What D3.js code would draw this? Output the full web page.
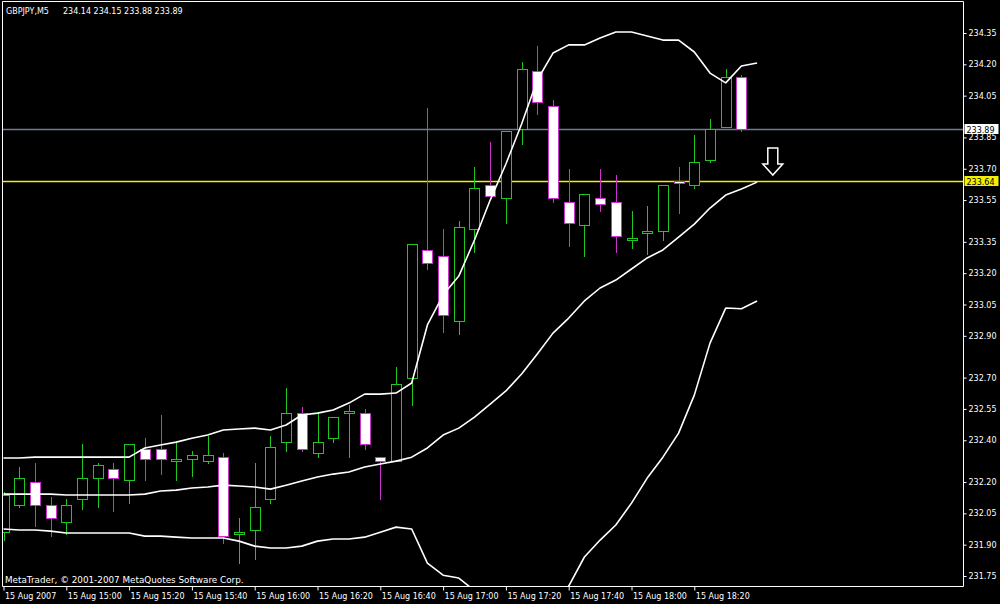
<!DOCTYPE html>
<html><head><meta charset="utf-8">
<script src="https://cdn.jsdelivr.net/npm/d3@7"></script>
<style>
html,body{margin:0;padding:0;background:#000;}
svg{display:block;}
text{font-family:"DejaVu Sans",sans-serif;font-size:8px;fill:#fff;}
</style></head>
<body>
<svg id="c" width="1000" height="604"></svg>
<script>
// ---- data ----
const symbolTitle = "GBPJPY,M5";
const lastQuote = "234.14 234.15 233.88 233.89";
const copyright = "MetaTrader, \u00a9 2001-2007 MetaQuotes Software Corp.";

const openP  = [231.96,232.09,232.20,232.09,232.01,232.12,232.22,232.26,232.21,232.36,232.36,232.30,232.31,232.30,232.32,231.95,231.97,232.12,232.39,232.53,232.34,232.41,232.53,232.53,232.32,232.30,232.70,233.31,233.28,232.97,233.41,233.62,233.56,233.89,234.17,234.00,233.54,233.43,233.56,233.54,233.36,233.39,233.40,233.64,233.62,233.74,233.90,234.14];
const highP  = [232.15,232.27,232.29,232.13,232.12,232.38,232.29,232.29,232.38,232.41,232.52,232.39,232.35,232.42,232.34,232.03,232.29,232.42,232.65,232.56,232.53,232.51,232.57,232.55,232.32,232.75,233.34,233.99,233.41,233.45,233.71,233.83,233.88,234.21,234.29,234.03,233.70,233.58,233.70,233.67,233.50,233.52,233.62,233.71,233.86,233.94,234.18,234.15];
const lowP   = [231.92,232.08,231.99,231.94,231.95,232.07,232.08,232.06,232.10,232.21,232.24,232.21,232.23,232.29,231.91,231.81,231.83,232.10,232.35,232.35,232.32,232.39,232.32,232.36,232.12,232.30,232.57,233.22,232.92,232.91,233.30,233.57,233.44,233.82,233.96,233.54,233.33,233.28,233.50,233.30,233.32,233.29,233.36,233.49,233.61,233.73,233.90,233.88];
const closeP = [232.14,232.22,232.09,232.03,232.09,232.22,232.28,232.22,232.38,232.31,232.31,232.31,232.33,232.33,231.94,231.96,232.08,232.37,232.53,232.36,232.39,232.51,232.54,232.38,232.30,232.67,233.34,233.25,233.00,233.42,233.61,233.57,233.88,234.18,234.02,233.56,233.44,233.58,233.53,233.38,233.37,233.40,233.62,233.63,233.73,233.89,234.14,233.89];

const bbUpper  = [232.315,232.315,232.319,232.319,232.319,232.319,232.319,232.319,232.319,232.363,232.377,232.391,232.410,232.425,232.449,232.454,232.458,232.449,232.473,232.521,232.530,232.545,232.578,232.621,232.621,232.626,232.674,232.952,233.095,233.186,233.359,233.550,233.723,233.914,234.125,234.254,234.293,234.293,234.326,234.355,234.355,234.336,234.316,234.316,234.259,234.158,234.111,234.192,234.206];
const bbMiddle = [232.142,232.142,232.142,232.142,232.138,232.138,232.138,232.138,232.138,232.142,232.157,232.161,232.171,232.176,232.185,232.181,232.176,232.166,232.185,232.205,232.224,232.238,232.248,232.272,232.286,232.300,232.319,232.363,232.425,232.458,232.511,232.573,232.636,232.717,232.813,232.913,232.985,233.067,233.129,233.167,233.220,233.273,233.311,233.373,233.435,233.512,233.574,233.603,233.636];
const bbLower  = [231.975,231.970,231.970,231.965,231.956,231.956,231.956,231.956,231.956,231.941,231.941,231.936,231.932,231.932,231.932,231.917,231.893,231.884,231.884,231.893,231.917,231.927,231.927,231.936,231.960,231.984,231.975,231.812,231.754,231.740,231.680,231.596,231.548,231.520,231.500,231.610,231.702,231.841,231.922,231.994,232.099,232.219,232.319,232.434,232.616,232.865,233.033,233.030,233.067];

const priceTicks = [234.35,234.20,234.05,233.85,233.70,233.55,233.35,233.20,233.05,232.90,232.70,232.55,232.40,232.20,232.05,231.90,231.75];
const timeTickBars = [0,4,8,12,16,20,24,28,32,36,40,44];
const timeLabels = ["15 Aug 2007","15 Aug 15:00","15 Aug 15:20","15 Aug 15:40","15 Aug 16:00","15 Aug 16:20","15 Aug 16:40","15 Aug 17:00","15 Aug 17:20","15 Aug 17:40","15 Aug 18:00","15 Aug 18:20"];

const bidLevel = 233.89;
const hLevel = 233.64;
const arrowBar = 49;
const arrowPrice = 233.67;

// ---- layout ----
const L = 2.5, R = 963.5, T = 1.5, B = 586.5;
const barW = 15.7;
const x = d3.scaleLinear().domain([0, 48]).range([3.5, 3.5 + 48 * barW]);
const y = d3.scaleLinear().domain([231.75, 234.35]).range([576, 33]);

const bullC = "#1ec81e", bearC = "#cc33cc";

const svg = d3.select("#c");
svg.append("rect").attr("width",1000).attr("height",604).attr("fill","#000");

svg.append("defs").append("clipPath").attr("id","plot")
  .append("rect").attr("x",L).attr("y",T).attr("width",R-L).attr("height",B-T);

const g = svg.append("g").attr("clip-path","url(#plot)");

// horizontal levels
g.append("line").attr("x1",L).attr("x2",R).attr("y1",Math.round(y(bidLevel))+0.5).attr("y2",Math.round(y(bidLevel))+0.5)
  .attr("stroke","#6f7c8a").attr("stroke-width",1.3);
g.append("line").attr("x1",L).attr("x2",R).attr("y1",Math.round(y(hLevel))+0.5).attr("y2",Math.round(y(hLevel))+0.5)
  .attr("stroke","#f0f000").attr("stroke-width",1.6);

// candles
const bars = d3.range(openP.length).map(i => ({i, o:openP[i], h:highP[i], l:lowP[i], c:closeP[i]}));
const cg = g.append("g");
bars.forEach(d => {
  const cx = Math.round(x(d.i)) + 0.5;
  const bull = d.c >= d.o;
  const col = bull ? bullC : bearC;
  cg.append("line").attr("x1",cx).attr("x2",cx)
    .attr("y1",Math.round(y(d.h))).attr("y2",Math.round(y(d.l))+1)
    .attr("stroke",col).attr("stroke-width",1);
  const yt = Math.round(y(Math.max(d.o,d.c))) + 0.5;
  const yb = Math.round(y(Math.min(d.o,d.c))) + 0.5;
  cg.append("rect").attr("x",cx-5).attr("y",yt).attr("width",10).attr("height",Math.max(1,yb-yt))
    .attr("fill", bull ? "#000" : "#fff").attr("stroke",col).attr("stroke-width",1);
});

// bollinger bands
const line = d3.line().x((d,i)=>x(i)).y(d=>y(d));
[bbUpper, bbMiddle, bbLower].forEach(s => {
  g.append("path").datum(s).attr("d",line).attr("fill","none")
    .attr("stroke","#fff").attr("stroke-width",1.6).attr("stroke-linejoin","round");
});

// arrow
const ax = x(arrowBar), ay = y(arrowPrice);
g.append("path")
  .attr("d", `M${ax-5},${ay-27} L${ax+5},${ay-27} L${ax+5},${ay-11} L${ax+10},${ay-11} L${ax},${ay} L${ax-10},${ay-11} L${ax-5},${ay-11} Z`)
  .attr("fill","#000").attr("stroke","#fff").attr("stroke-width",1.5).attr("stroke-linejoin","miter");

// frame
svg.append("path").attr("d",`M${L},${T} L${R},${T} L${R},${B} L${L},${B} Z`)
  .attr("fill","none").attr("stroke","#fff").attr("stroke-width",1);

// right price axis
const yAxis = d3.axisRight(y).tickValues(priceTicks).tickSize(3).tickPadding(2).tickFormat(d3.format(".2f"));
const ya = svg.append("g").attr("transform",`translate(${R},0)`).call(yAxis);
ya.select(".domain").remove();
ya.selectAll(".tick line").attr("stroke","#fff");
ya.selectAll(".tick text").attr("fill","#fff").style("font-family","DejaVu Sans").style("font-size","8px");

// bottom time axis
const xAxis = d3.axisBottom(x).tickValues(timeTickBars).tickSize(4).tickPadding(2)
  .tickFormat((d,i)=>timeLabels[i]);
const xa = svg.append("g").attr("transform",`translate(0,${B})`).call(xAxis);
xa.select(".domain").remove();
xa.selectAll(".tick line").attr("stroke","#fff");
xa.selectAll(".tick text").attr("fill","#fff").attr("text-anchor","start").attr("x",1).attr("dy","0.85em")
  .style("font-family","DejaVu Sans").style("font-size","8px");

// price labels on axis
function priceBox(v, bg){
  const yy = Math.round(y(v));
  svg.append("rect").attr("x",R+1).attr("y",yy-5).attr("width",34).attr("height",10).attr("fill",bg);
  svg.append("text").attr("x",R+3).attr("y",yy+3.5).text(v.toFixed(2)).style("fill","#000");
}
priceBox(bidLevel, "#ffffff");
priceBox(hLevel, "#f0f000");

// title + copyright
svg.append("text").attr("x",6).attr("y",14).text(symbolTitle);
svg.append("text").attr("x",63).attr("y",14).text(lastQuote);
svg.append("text").attr("x",5).attr("y",583).style("font-size","8.8px").text(copyright);
</script>
</body></html>
